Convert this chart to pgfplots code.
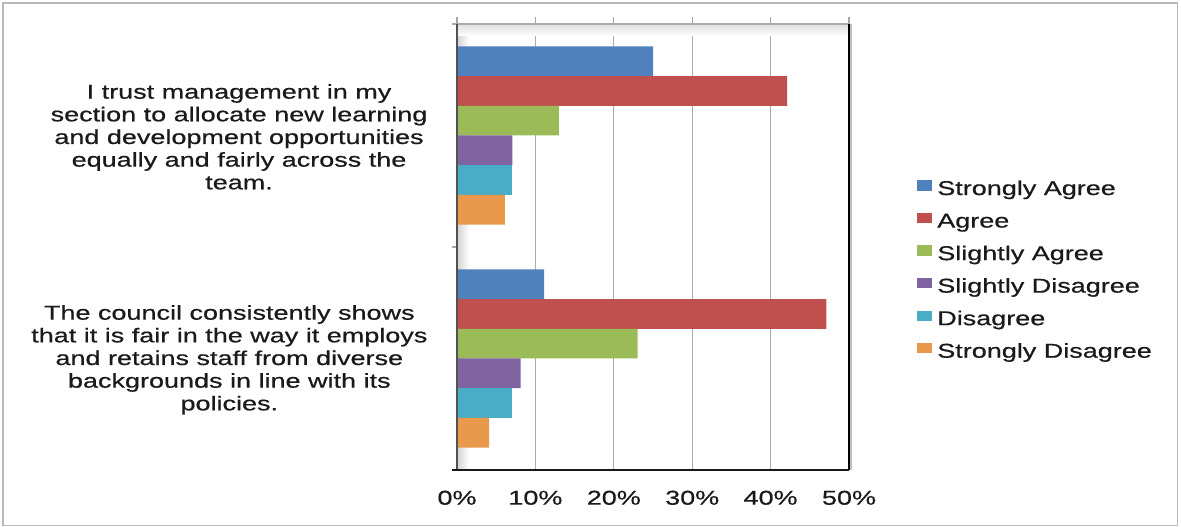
\documentclass[border=0pt]{standalone}
\usepackage{pgfplots}
\pgfplotsset{compat=1.18}
\usepackage{fontspec}
\setmainfont{Liberation Sans}[FakeStretch=1.35, FakeBold=0.6]
\definecolor{cSA}{HTML}{4F81BD}
\definecolor{cA}{HTML}{C0504D}
\definecolor{cSlA}{HTML}{9BBB59}
\definecolor{cSlD}{HTML}{8064A2}
\definecolor{cD}{HTML}{4BACC6}
\definecolor{cSD}{HTML}{E9994C}
\definecolor{txt}{HTML}{1A1A1A}
\begin{document}
\begin{tikzpicture}
\path[use as bounding box] (0,0) rectangle (885.75pt,395.25pt);
\draw[gray!55, line width=0.9pt] (2.25pt,1pt) rectangle (883pt,393pt);
\begin{axis}[
  at={(342.75pt,42.75pt)}, anchor=south west,
  scale only axis, width=294pt, height=334.5pt,
  xmin=0, xmax=50, ymin=-0.5, ymax=1.5,
  axis line style={draw=none},
  xtick={0,10,20,30,40,50},
  xticklabels={0\%,10\%,20\%,30\%,40\%,50\%},
  xtick pos=upper, xticklabel pos=lower,
  x tick style={gray!70, line width=0.9pt},
  xtick align=outside,
  major tick length=5pt,
  xticklabel style={font=\fontsize{15}{17}\selectfont, text=txt, yshift=-7pt},
  xmajorgrids, grid style={gray!65, line width=0.9pt},
  ytick={0,1},
  yticklabels={{The council consistently shows\\that it is fair in the way it employs\\and retains staff from diverse\\backgrounds in line with its\\policies.},
               {I trust management in my\\section to allocate new learning\\and development opportunities\\equally and fairly across the\\team.}},
  y tick style={draw=none},
  ytick pos=left,
  yticklabel style={font=\fontsize{15}{17}\selectfont, text=txt, align=center, anchor=east, inner sep=0pt, xshift=-17pt, yshift=-1pt},
  extra y ticks={-0.5,0.5,1.5}, extra y tick labels={},
  extra y tick style={y tick style={draw=gray!70, line width=0.9pt}, tick align=outside, major tick length=4pt, ymajorgrids=false, xmajorgrids=false},
  xbar=0pt, bar width=22.3pt,
  legend style={at={(1.1735,0.650)}, anchor=north west, draw=none, fill=none,
    inner sep=0pt, row sep=9.9pt,
    font=\fontsize{15}{17}\selectfont, text=txt,
    nodes={text height=10.5pt, text depth=3.5pt, inner sep=0pt},
    /tikz/every odd column/.style={column sep=3.75pt}},
  legend cell align=left,
  legend image code/.code={\fill[#1] (0pt,-0.3pt) rectangle (11.25pt,7.5pt);},
  clip=false,
]
\fill[left color=gray!35, right color=white] (rel axis cs:0,0) rectangle ([xshift=9pt]rel axis cs:0,1);
\fill[top color=gray!25, bottom color=white] (rel axis cs:0,1) rectangle ([yshift=-9pt]rel axis cs:1,1);
\addplot[fill=cSA, draw=none, bar shift=55.75pt] coordinates {(25,1) (11.1,0)};
\addplot[fill=cA, draw=none, bar shift=33.45pt] coordinates {(42.1,1) (47.1,0)};
\addplot[fill=cSlA, draw=none, bar shift=11.15pt] coordinates {(13,1) (23.05,0)};
\addplot[fill=cSlD, draw=none, bar shift=-11.15pt] coordinates {(7.05,1) (8.1,0)};
\addplot[fill=cD, draw=none, bar shift=-33.45pt] coordinates {(7.0,1) (7.0,0)};
\addplot[fill=cSD, draw=none, bar shift=-55.75pt] coordinates {(6.1,1) (4.1,0)};
\legend{Strongly Agree,Agree,Slightly Agree,Slightly Disagree,Disagree,Strongly Disagree}
\draw[gray!65, line width=1pt] ([xshift=-4pt]rel axis cs:0,1) -- (rel axis cs:1,1);
\draw[gray!30!black!80, line width=1.1pt] (rel axis cs:0,0) -- (rel axis cs:0,1);
\draw[gray!20!black, line width=1.1pt] ([xshift=-4pt]rel axis cs:0,0) -- (rel axis cs:1,0);
\draw[gray!50, line width=1.5pt] ([xshift=1.5pt]rel axis cs:1,0) -- ([xshift=1.5pt]rel axis cs:1,1);
\draw[black, line width=1.2pt] (rel axis cs:1,0) -- (rel axis cs:1,1);
\end{axis}
\end{tikzpicture}
\end{document}
